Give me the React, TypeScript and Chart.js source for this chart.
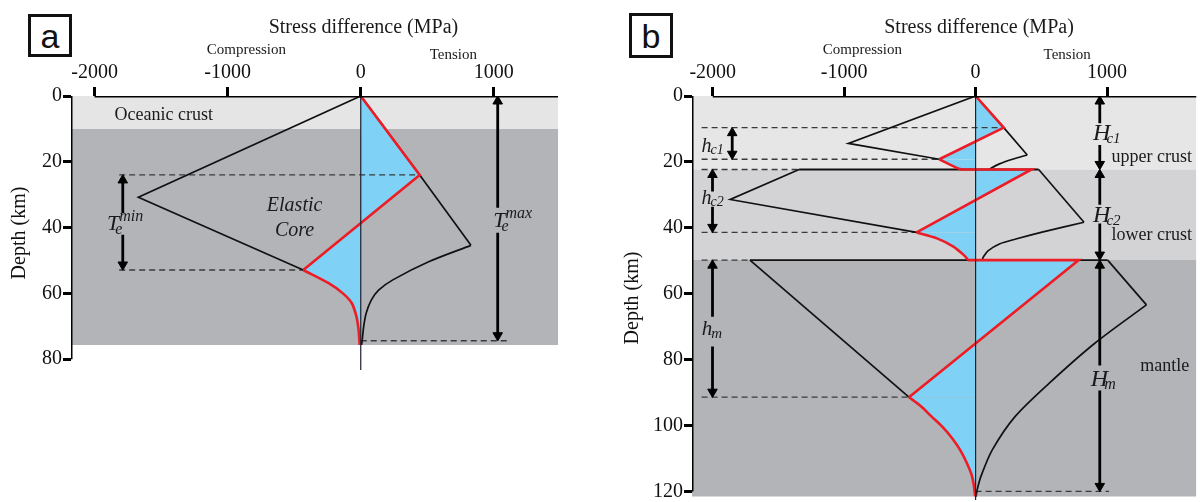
import React, { useEffect, useRef } from 'react';
import { Chart, registerables } from 'chart.js';

Chart.register(...registerables);

const SERIF = '"Liberation Serif", "Times New Roman", serif';
const SANS = '"Liberation Sans", Arial, sans-serif';

const BLUE = '#7fd2f5';
const RED = '#ee1c25';
const INK = '#111111';
const DASH_INK = '#3a3a3a';
const ZERO_INK = '#1c2030';
const TEXT_INK = '#1a1a1a';
const CURVE_TENSION = 0.3;

// ---------------- panel a : oceanic lithosphere ----------------
const A_X_TICKS = [-2000, -1000, 0, 1000];
const A_Y_TICKS = [0, 20, 40, 60, 80];
const A_X_RANGE = [-2177, 1482];
const A_Y_RANGE = [0, 83.3];
const A_LAYER_TOPS = [0, 10];
const A_LAYER_BASES = [10, 75.7];
const A_LAYER_COLORS = ['#e5e5e6', '#b3b4b8'];

// black yield envelope, compression side (MPa, km)
const A_COMP_X = [0, -1671, -432];
const A_COMP_Y = [0, 30.8, 52.9];
// black yield envelope, tension side: brittle part, then ductile curve
const A_TENS_X = [0, 443, 828];
const A_TENS_Y = [0, 24.0, 45.4];
const A_TENS_DUCT_X = [828, 510, 241, 134, 80, 41, 22, 11, 6];
const A_TENS_DUCT_Y = [45.4, 50.4, 55.9, 59.0, 62.0, 66.0, 70.1, 74.2, 75.7];
// red stress profile: straight part, then ductile curve
const A_RED_X = [0, 443, -432];
const A_RED_Y = [0, 24.0, 52.9];
const A_RED_DUCT_X = [-432, -241, -134, -67, -32, -16, -11, -8];
const A_RED_DUCT_Y = [52.9, 56.9, 60.0, 63.0, 67.1, 71.1, 74.0, 75.7];

// dashed guide lines
const A_DASH_DEPTH = [24.0, 52.9, 74.4];
const A_DASH_FROM = [-1815, -1815, 0];
const A_DASH_TO = [443, -432, 1107];

// thickness arrows
const A_ARROW_X = [-1788, 1029];
const A_ARROW_FROM = [24.0, 0];
const A_ARROW_TO = [52.9, 74.4];
const A_ARROW_GAP_FROM = [35.6, 34.0];
const A_ARROW_GAP_TO = [42.2, 41.6];

// ---------------- panel b : continental lithosphere ----------------
const B_X_TICKS = [-2000, -1000, 0, 1000];
const B_Y_TICKS = [0, 20, 40, 60, 80, 100, 120];
const B_X_RANGE = [-2158, 1681];
const B_Y_RANGE = [0, 122.6];
const B_LAYER_TOPS = [0, 22.3, 49.8];
const B_LAYER_BASES = [22.3, 49.8, 121.5];
const B_LAYER_COLORS = ['#e6e6e7', '#d3d3d5', '#b3b4b8'];

// upper crust envelope
const B_UC_COMP_X = [0, -968, -276];
const B_UC_COMP_Y = [0, 14.4, 19.2];
const B_UC_TENS_X = [0, 214, 393];
const B_UC_TENS_Y = [0, 9.6, 17.9];
const B_UC_TENS_DUCT_X = [393, 281, 181, 118, 105];
const B_UC_TENS_DUCT_Y = [17.9, 19.2, 20.6, 21.9, 22.3];
// lower crust envelope
const B_LC_COMP_X = [-1343, -1867, -449];
const B_LC_COMP_Y = [22.3, 31.4, 41.4];
const B_LC_TENS_X = [480, 825];
const B_LC_TENS_Y = [22.3, 38.3];
const B_LC_TENS_DUCT_X = [825, 506, 306, 181, 94, 60, 50];
const B_LC_TENS_DUCT_Y = [38.3, 41.3, 43.4, 44.9, 47.0, 48.8, 49.8];
// mantle envelope
const B_M_COMP_X = [-1717, -507];
const B_M_COMP_Y = [49.8, 91.4];
const B_M_TENS_X = [1005, 1300];
const B_M_TENS_Y = [49.8, 63.4];
const B_M_TENS_DUCT_X = [1300, 905, 559, 300, 127, 40, 12, 3];
const B_M_TENS_DUCT_Y = [63.4, 75.1, 87.2, 97.3, 107.4, 115.5, 119.5, 121.6];
// layer-boundary segments of the envelope
const B_BOUND_DEPTH = [22.3, 49.8];
const B_BOUND_FROM = [-1343, -1717];
const B_BOUND_TO = [480, 1005];
// red stress profile, layer by layer: straight part then ductile curve
const B_RED_UC_X = [0, 214, -276];
const B_RED_UC_Y = [0, 9.6, 19.2];
const B_RED_UC_DUCT_X = [-276, -206, -144, -106];
const B_RED_UC_DUCT_Y = [19.2, 20.6, 21.8, 22.3];
const B_RED_LC_X = [-106, 425, -449];
const B_RED_LC_Y = [22.3, 22.3, 41.4];
const B_RED_LC_DUCT_X = [-449, -294, -169, -89, -56];
const B_RED_LC_DUCT_Y = [41.4, 43.2, 45.7, 48.3, 49.8];
const B_RED_M_X = [-56, 785, -507];
const B_RED_M_Y = [49.8, 49.8, 91.4];
const B_RED_M_DUCT_X = [-507, -420, -334, -250, -180, -118, -65, -30, -12, -3];
const B_RED_M_DUCT_Y = [91.4, 94.0, 97.3, 100.5, 103.8, 107.4, 111.5, 115.0, 118.5, 121.5];

// dashed guide lines
const B_DASH_DEPTH = [9.6, 19.2, 22.3, 41.4, 49.8, 91.4, 120];
const B_DASH_FROM = [-2085, -2085, -2085, -2085, -2085, -2085, 0];
const B_DASH_TO = [214, -276, -1343, -449, -1717, -507, 1016];

// thickness arrows
const B_ARROW_X = [-1852, -2002, -2002, 945, 945, 945];
const B_ARROW_FROM = [9.6, 22.3, 49.8, 0, 22.3, 49.8];
const B_ARROW_TO = [19.2, 41.4, 91.4, 22.3, 49.8, 120];
const B_ARROW_GAP_FROM = [NaN, 29.0, 67.0, 8.3, 33.0, 81.8];
const B_ARROW_GAP_TO = [NaN, 33.6, 76.0, 14.9, 38.7, 89.4];

// ---------------- annotations ----------------
type TextItem = { text: string; x: number; y: number; size: number; align: CanvasTextAlign; italic?: boolean };
type SymItem = { main: string; sub: string; sup?: string; x: number; y: number; size: number; small: number; subDx: number; subDy: number; supDx?: number; supDy?: number };

const A_TEXTS: TextItem[] = [
  { text: 'Stress difference (MPa)', x: 20, y: -19.15, size: 20, align: 'center' },
  { text: 'Compression', x: -859, y: -12.77, size: 15, align: 'center' },
  { text: 'Tension', x: 696, y: -11.25, size: 15, align: 'center' },
  { text: 'Oceanic crust', x: -1850, y: 7.3, size: 18, align: 'left' },
  { text: 'Elastic', x: -497, y: 34.9, size: 20, align: 'center', italic: true },
  { text: 'Core', x: -497, y: 42.5, size: 20, align: 'center', italic: true },
];
const A_SYMBOLS: SymItem[] = [
  { main: 'T', sub: 'e', sup: 'min', x: -1906, y: 40.6, size: 22, small: 16, subDx: -4, subDy: 4, supDx: 0, supDy: -9 },
  { main: 'T', sub: 'e', sup: 'max', x: 996, y: 39.7, size: 22, small: 16, subDx: -4, subDy: 4, supDx: 0, supDy: -9 },
];
const B_TEXTS: TextItem[] = [
  { text: 'Stress difference (MPa)', x: 26, y: -19.15, size: 20, align: 'center' },
  { text: 'Compression', x: -861, y: -12.77, size: 15, align: 'center' },
  { text: 'Tension', x: 697, y: -11.25, size: 15, align: 'center' },
  { text: 'upper crust', x: 1034, y: 19.9, size: 18, align: 'left' },
  { text: 'lower crust', x: 1034, y: 43.7, size: 18, align: 'left' },
  { text: 'mantle', x: 1253, y: 83.4, size: 18, align: 'left' },
];
const B_SYMBOLS: SymItem[] = [
  { main: 'h', sub: 'c1', x: -2085, y: 16.9, size: 20, small: 14, subDx: -1, subDy: 2 },
  { main: 'h', sub: 'c2', x: -2085, y: 32.9, size: 20, small: 14, subDx: -1, subDy: 2 },
  { main: 'h', sub: 'm', x: -2083, y: 72.5, size: 21, small: 15, subDx: -1, subDy: 3 },
  { main: 'H', sub: 'c1', x: 894, y: 13.35, size: 24, small: 15, subDx: -4, subDy: 3 },
  { main: 'H', sub: 'c2', x: 894, y: 38.1, size: 24, small: 15, subDx: -4, subDy: 3 },
  { main: 'H', sub: 'm', x: 877, y: 87.9, size: 24, small: 16, subDx: -4, subDy: 3 },
];

// ---------------- dataset helpers ----------------
type XY = { x: number; y: number | null };
const toPts = (xs: number[], ys: number[]): XY[] => xs.map((x, i) => ({ x, y: ys[i] }));
const ARROW_R = 5.5;
const ARROW_TIP_KM = 1.6;
const CLEAR = 'rgba(0,0,0,0)';

function line(data: XY[], color: string, width: number, extra: any = {}) {
  return {
    data,
    borderColor: color,
    borderWidth: width,
    pointRadius: 0,
    pointHoverRadius: 0,
    fill: false,
    tension: 0,
    ...extra,
  };
}

const curve = (xs: number[], ys: number[], color: string, width: number) =>
  line(toPts(xs, ys), color, width, { tension: CURVE_TENSION });

// blue area between a straight red stretch and the zero line
function blueStraight(xs: number[], ys: number[]) {
  const pts = toPts(xs, ys);
  const data = [{ x: 0, y: ys[0] }, ...pts, { x: 0, y: ys[ys.length - 1] }];
  return line(data, CLEAR, 0, { fill: 'shape', backgroundColor: BLUE });
}

// blue area between a ductile red curve and the zero line (depth as index axis)
function blueCurve(xs: number[], ys: number[]) {
  return line(toPts(xs, ys), CLEAR, 0, {
    indexAxis: 'y',
    tension: CURVE_TENSION,
    fill: 'origin',
    backgroundColor: BLUE,
  });
}

function band(xr: number[], top: number, bottom: number, color: string) {
  return line([{ x: xr[0], y: top }, { x: xr[1], y: top }], CLEAR, 0, {
    fill: { value: bottom },
    backgroundColor: color,
  });
}

function dashed(depth: number, from: number, to: number) {
  return line([{ x: from, y: depth }, { x: to, y: depth }], DASH_INK, 1.3, { borderDash: [6, 4] });
}

function arrow(x: number, from: number, to: number, gFrom: number, gTo: number) {
  const a = from + ARROW_TIP_KM;
  const b = to - ARROW_TIP_KM;
  const data: XY[] = isNaN(gFrom)
    ? [{ x, y: a }, { x, y: b }]
    : [{ x, y: a }, { x, y: gFrom }, { x, y: null }, { x, y: gTo }, { x, y: b }];
  const n = data.length;
  return line(data, '#000', 2.8, {
    pointStyle: 'triangle',
    pointRadius: data.map((_, i) => (i === 0 || i === n - 1 ? ARROW_R : 0)),
    pointRotation: data.map((_, i) => (i === n - 1 ? 180 : 0)),
    pointBackgroundColor: '#000',
    pointBorderColor: '#000',
    pointBorderWidth: 1,
    spanGaps: false,
  });
}

function withOrder(list: any[]) {
  return list.map((d, i) => ({ ...d, order: list.length - i }));
}

function datasetsA() {
  const list: any[] = [];
  A_LAYER_TOPS.forEach((t, i) => list.push(band(A_X_RANGE, t, A_LAYER_BASES[i], A_LAYER_COLORS[i])));
  list.push(blueStraight(A_RED_X, A_RED_Y));
  list.push(blueCurve(A_RED_DUCT_X, A_RED_DUCT_Y));
  A_DASH_DEPTH.forEach((d, i) => list.push(dashed(d, A_DASH_FROM[i], A_DASH_TO[i])));
  list.push(line(toPts(A_COMP_X, A_COMP_Y), INK, 1.7));
  list.push(line(toPts(A_TENS_X, A_TENS_Y), INK, 1.7));
  list.push(curve(A_TENS_DUCT_X, A_TENS_DUCT_Y, INK, 1.7));
  list.push(line(toPts(A_RED_X, A_RED_Y), RED, 2.6));
  list.push(curve(A_RED_DUCT_X, A_RED_DUCT_Y, RED, 2.6));
  list.push(line([{ x: 0, y: 0 }, { x: 0, y: A_Y_RANGE[1] }], ZERO_INK, 1.2));
  A_ARROW_X.forEach((x, i) => list.push(arrow(x, A_ARROW_FROM[i], A_ARROW_TO[i], A_ARROW_GAP_FROM[i], A_ARROW_GAP_TO[i])));
  list.push(line([{ x: A_X_TICKS[0], y: 0 }, { x: A_X_RANGE[1], y: 0 }], '#000', 3));
  list.push(line([{ x: A_X_RANGE[0], y: 0 }, { x: A_X_RANGE[0], y: A_Y_TICKS[A_Y_TICKS.length - 1] }], '#000', 3));
  return withOrder(list);
}

function datasetsB() {
  const list: any[] = [];
  B_LAYER_TOPS.forEach((t, i) => list.push(band(B_X_RANGE, t, B_LAYER_BASES[i], B_LAYER_COLORS[i])));
  list.push(blueStraight(B_RED_UC_X, B_RED_UC_Y));
  list.push(blueCurve(B_RED_UC_DUCT_X, B_RED_UC_DUCT_Y));
  list.push(blueStraight(B_RED_LC_X, B_RED_LC_Y));
  list.push(blueCurve(B_RED_LC_DUCT_X, B_RED_LC_DUCT_Y));
  list.push(blueStraight(B_RED_M_X, B_RED_M_Y));
  list.push(blueCurve(B_RED_M_DUCT_X, B_RED_M_DUCT_Y));
  B_DASH_DEPTH.forEach((d, i) => list.push(dashed(d, B_DASH_FROM[i], B_DASH_TO[i])));
  list.push(line(toPts(B_UC_COMP_X, B_UC_COMP_Y), INK, 1.7));
  list.push(line(toPts(B_UC_TENS_X, B_UC_TENS_Y), INK, 1.7));
  list.push(curve(B_UC_TENS_DUCT_X, B_UC_TENS_DUCT_Y, INK, 1.7));
  list.push(line(toPts(B_LC_COMP_X, B_LC_COMP_Y), INK, 1.7));
  list.push(line(toPts(B_LC_TENS_X, B_LC_TENS_Y), INK, 1.7));
  list.push(curve(B_LC_TENS_DUCT_X, B_LC_TENS_DUCT_Y, INK, 1.7));
  list.push(line(toPts(B_M_COMP_X, B_M_COMP_Y), INK, 1.7));
  list.push(line(toPts(B_M_TENS_X, B_M_TENS_Y), INK, 1.7));
  list.push(curve(B_M_TENS_DUCT_X, B_M_TENS_DUCT_Y, INK, 1.7));
  B_BOUND_DEPTH.forEach((d, i) => list.push(line([{ x: B_BOUND_FROM[i], y: d }, { x: B_BOUND_TO[i], y: d }], INK, 1.9)));
  list.push(line(toPts(B_RED_UC_X, B_RED_UC_Y), RED, 2.6));
  list.push(curve(B_RED_UC_DUCT_X, B_RED_UC_DUCT_Y, RED, 2.6));
  list.push(line(toPts(B_RED_LC_X, B_RED_LC_Y), RED, 2.6));
  list.push(curve(B_RED_LC_DUCT_X, B_RED_LC_DUCT_Y, RED, 2.6));
  list.push(line(toPts(B_RED_M_X, B_RED_M_Y), RED, 2.6));
  list.push(curve(B_RED_M_DUCT_X, B_RED_M_DUCT_Y, RED, 2.6));
  list.push(line([{ x: 0, y: 0 }, { x: 0, y: B_Y_RANGE[1] }], ZERO_INK, 1.2));
  B_ARROW_X.forEach((x, i) => list.push(arrow(x, B_ARROW_FROM[i], B_ARROW_TO[i], B_ARROW_GAP_FROM[i], B_ARROW_GAP_TO[i])));
  list.push(line([{ x: B_X_TICKS[0], y: 0 }, { x: B_X_RANGE[1], y: 0 }], '#000', 3));
  list.push(line([{ x: B_X_RANGE[0], y: 0 }, { x: B_X_RANGE[0], y: B_Y_TICKS[B_Y_TICKS.length - 1] }], '#000', 3));
  return withOrder(list);
}

// ---------------- annotation plugin ----------------
function labelPlugin(texts: TextItem[], symbols: SymItem[]) {
  return {
    id: 'figureLabels',
    afterDatasetsDraw(chart: any) {
      const { ctx } = chart;
      const xs = chart.scales.x;
      const ys = chart.scales.y;
      ctx.save();
      ctx.fillStyle = TEXT_INK;
      ctx.textBaseline = 'alphabetic';
      for (const t of texts) {
        ctx.font = `${t.italic ? 'italic ' : ''}${t.size}px ${SERIF}`;
        ctx.textAlign = t.align;
        ctx.fillText(t.text, xs.getPixelForValue(t.x), ys.getPixelForValue(t.y));
      }
      ctx.textAlign = 'left';
      for (const s of symbols) {
        const px = xs.getPixelForValue(s.x);
        const py = ys.getPixelForValue(s.y);
        ctx.font = `italic ${s.size}px ${SERIF}`;
        ctx.fillText(s.main, px, py);
        const w = ctx.measureText(s.main).width;
        ctx.font = `italic ${s.small}px ${SERIF}`;
        ctx.fillText(s.sub, px + w + s.subDx, py + s.subDy);
        if (s.sup) ctx.fillText(s.sup, px + w + (s.supDx || 0), py + (s.supDy || 0));
      }
      ctx.restore();
    },
  };
}

type PanelCfg = {
  datasets: any[];
  xRange: number[];
  yRange: number[];
  xTicks: number[];
  yTicks: number[];
  yAxisWidth: number;
  yTitlePad: number;
  padRight: number;
  padBottom: number;
  texts: TextItem[];
  symbols: SymItem[];
};

const zeroPadding = (s: any) => {
  s.paddingLeft = 0;
  s.paddingRight = 0;
  s.paddingTop = 0;
  s.paddingBottom = 0;
};

function makeChart(canvas: HTMLCanvasElement, c: PanelCfg) {
  const tickFont = { family: SERIF, size: 20 };
  return new Chart(canvas, {
    type: 'line',
    data: { datasets: c.datasets },
    options: {
      responsive: false,
      maintainAspectRatio: false,
      animation: false,
      events: [],
      layout: { padding: { left: 0, top: 0, right: c.padRight, bottom: c.padBottom } },
      plugins: { legend: { display: false }, tooltip: { enabled: false }, title: { display: false } },
      scales: {
        x: {
          type: 'linear',
          position: 'top',
          min: c.xRange[0],
          max: c.xRange[1],
          afterBuildTicks: (s: any) => {
            s.ticks = c.xTicks.map((v) => ({ value: v }));
          },
          afterFit: (s: any) => {
            s.height = 96;
            zeroPadding(s);
          },
          ticks: {
            callback: (v: any) => String(v),
            font: tickFont,
            color: INK,
            padding: 2,
            maxRotation: 0,
            autoSkip: false,
          },
          grid: { drawOnChartArea: false, drawTicks: true, tickLength: 9, lineWidth: 3, color: '#000' },
          border: { display: false },
        },
        y: {
          type: 'linear',
          reverse: true,
          min: c.yRange[0],
          max: c.yRange[1],
          afterBuildTicks: (s: any) => {
            s.ticks = c.yTicks.map((v) => ({ value: v }));
          },
          afterFit: (s: any) => {
            s.width = c.yAxisWidth;
            zeroPadding(s);
          },
          ticks: {
            callback: (v: any) => String(v),
            font: tickFont,
            color: INK,
            padding: 1,
            autoSkip: false,
          },
          grid: { drawOnChartArea: false, drawTicks: true, tickLength: 8, lineWidth: 3, color: '#000' },
          border: { display: false },
          title: {
            display: true,
            text: 'Depth (km)',
            font: { family: SERIF, size: 20 },
            color: INK,
            padding: { top: c.yTitlePad, bottom: 0 },
          },
        },
      },
    } as any,
    plugins: [labelPlugin(c.texts, c.symbols)],
  });
}

const boxStyle = (left: number, top: number, w: number, h: number): React.CSSProperties => ({
  position: 'absolute',
  left,
  top,
  width: w,
  height: h,
  boxSizing: 'border-box',
  border: '3px solid #111',
  fontFamily: SANS,
  fontSize: 34,
  lineHeight: 1,
  display: 'flex',
  alignItems: 'center',
  justifyContent: 'center',
  color: '#111',
  background: '#fff',
});

export default function App() {
  const refA = useRef<HTMLCanvasElement>(null);
  const refB = useRef<HTMLCanvasElement>(null);

  useEffect(() => {
    const ca = makeChart(refA.current!, {
      datasets: datasetsA(),
      xRange: A_X_RANGE,
      yRange: A_Y_RANGE,
      xTicks: A_X_TICKS,
      yTicks: A_Y_TICKS,
      yAxisWidth: 71,
      yTitlePad: 8,
      padRight: 42,
      padBottom: 132,
      texts: A_TEXTS,
      symbols: A_SYMBOLS,
    });
    const cb = makeChart(refB.current!, {
      datasets: datasetsB(),
      xRange: B_X_RANGE,
      yRange: B_Y_RANGE,
      xTicks: B_X_TICKS,
      yTicks: B_Y_TICKS,
      yAxisWidth: 92,
      yTitlePad: 20.7,
      padRight: 0,
      padBottom: 9,
      texts: B_TEXTS,
      symbols: B_SYMBOLS,
    });
    return () => {
      ca.destroy();
      cb.destroy();
    };
  }, []);

  return (
    <div style={{ position: 'absolute', left: 0, top: 0, width: 1203, height: 502, background: '#fff', overflow: 'hidden' }}>
      <canvas ref={refA} width={600} height={502} style={{ position: 'absolute', left: 0, top: 0 }} />
      <canvas ref={refB} width={603} height={509} style={{ position: 'absolute', left: 600, top: 0 }} />
      <div style={boxStyle(28, 14, 44, 43)}>a</div>
      <div style={boxStyle(629, 13, 44, 45)}>b</div>
    </div>
  );
}
